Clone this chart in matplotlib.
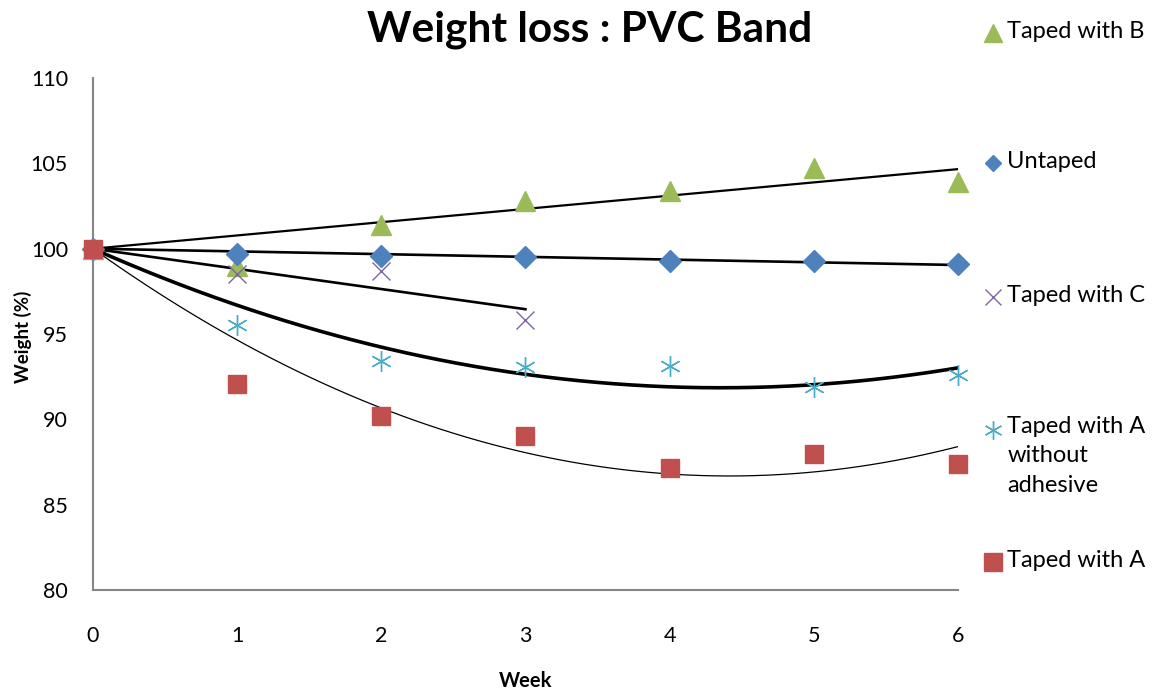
import numpy as np
import matplotlib.pyplot as plt

plt.rcParams['font.family'] = ['Lato', 'DejaVu Sans']

weeks = [0, 1, 2, 3, 4, 5, 6]
weeks_c = [0, 1, 2, 3]

taped_b = [100, 99.0, 101.4, 102.8, 103.4, 104.7, 103.9]
untaped = [100, 99.7, 99.6, 99.5, 99.3, 99.26, 99.1]
taped_c = [100, 98.5, 98.7, 95.85]
taped_a_noadh = [100, 95.5, 93.4, 93.05, 93.1, 91.9, 92.6]
taped_a = [100, 92.07, 90.2, 89.0, 87.15, 87.97, 87.4]

labels = ["Taped with B", "Untaped", "Taped with C",
          "Taped with A\nwithout\nadhesive", "Taped with A"]

green = '#9BBB59'
blue = '#4F81BD'
purple = '#8064A2'
cyan = '#4BACC6'
red = '#C0504D'


def trend(x, y, order):
    # excel style trendline, intercept fixed at 100
    x = np.array(x, float)
    d = np.array(y, float) - 100
    A = np.column_stack([x**k for k in range(1, order + 1)])
    coef = np.linalg.lstsq(A, d, rcond=None)[0]
    xs = np.linspace(x.min(), x.max(), 200)
    ys = 100 + sum(c * xs**(k + 1) for k, c in enumerate(coef))
    return xs, ys


fig = plt.figure(figsize=(11.54, 6.93), dpi=100)
ax = fig.add_axes([0.0806, 0.1486, 0.7494, 0.7388])

# trend lines
xs, ys = trend(weeks, taped_b, 1)
ax.plot(xs, ys, color='black', lw=1.6)
xs, ys = trend(weeks, untaped, 1)
ax.plot(xs, ys, color='black', lw=1.9)
xs, ys = trend(weeks_c, taped_c, 1)
ax.plot(xs, ys, color='black', lw=1.9)
xs, ys = trend(weeks, taped_a_noadh, 2)
ax.plot(xs, ys, color='black', lw=2.6)
xs, ys = trend(weeks, taped_a, 2)
ax.plot(xs, ys, color='black', lw=0.9)

# markers
mk = dict(ls='none', clip_on=False, zorder=3)
ax.plot(weeks, taped_b, marker='^', ms=14, color=green, **mk)
ax.plot(weeks, untaped, marker='D', ms=11, color=blue, **mk)
ax.plot(weeks_c, taped_c, marker='x', ms=13, mew=1.0, color=purple, **mk)
ax.plot(weeks, taped_a_noadh, marker=(6, 2, 0), ms=15, mew=1.0, color=cyan, **mk)
ax.plot(weeks, taped_a, marker='s', ms=13, color=red, **mk)

ax.set_xlim(0, 6)
ax.set_ylim(80, 110)
ax.set_yticks(range(80, 111, 5))
ax.set_xticks(weeks)
ax.tick_params(length=0, labelsize=15.5)
ax.tick_params(axis='y', pad=18)
ax.tick_params(axis='x', pad=26)
for s in ['top', 'right']:
    ax.spines[s].set_visible(False)
for s in ['left', 'bottom']:
    ax.spines[s].set_color('#868686')
    ax.spines[s].set_linewidth(1.5)

ax.set_xlabel('Week', fontsize=14.5, fontweight='bold')
ax.xaxis.set_label_coords(0.5, -0.158)
ax.set_ylabel('Weight (%)', fontsize=13.5, fontweight='bold')
ax.yaxis.set_label_coords(-0.07, 0.495)
fig.text(0.511, 0.957, 'Weight loss : PVC Band', fontsize=30.5,
         fontweight='bold', ha='center', va='center')

# legend drawn by hand on the right
leg_y = [0.952, 0.765, 0.572, 0.379, 0.189]
leg_mk = [('^', 13, green, 0), ('D', 8.5, blue, 0), ('x', 12, purple, 1.0),
          ((6, 2, 0), 13, cyan, 1.0), ('s', 13, red, 0)]
for y, lab, (m, ms, c, mew) in zip(leg_y, labels, leg_mk):
    fig.lines.append(plt.Line2D([0.8605], [y], marker=m, ms=ms, color=c,
                                mew=mew if mew else None, ls='none',
                                transform=fig.transFigure))
    if '\n' in lab:
        fig.text(0.873, y + 0.021, lab, fontsize=17, va='top', linespacing=1.5)
    else:
        fig.text(0.873, y + 0.002, lab, fontsize=17, va='center')

fig.savefig('out.png', dpi=100)
